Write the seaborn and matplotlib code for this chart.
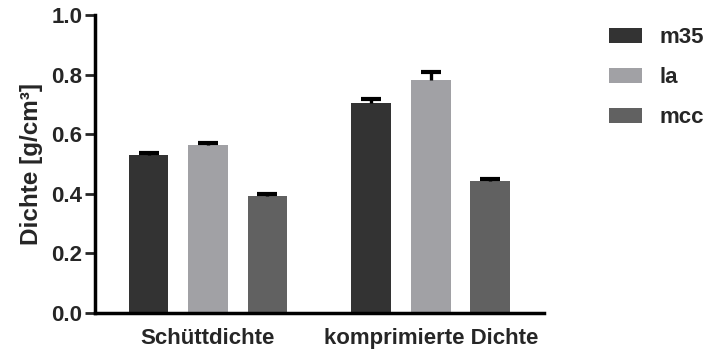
import matplotlib
matplotlib.use("Agg")
import matplotlib.pyplot as plt
import seaborn as sns
import pandas as pd

# Density measurements per powder and method
methods = ["Schüttdichte", "komprimierte Dichte"]
powders = ["m35", "la", "mcc"]
means = {
    "m35": [0.531, 0.704],
    "la": [0.565, 0.781],
    "mcc": [0.393, 0.444],
}
errors = {
    "m35": [0.006, 0.013],
    "la": [0.007, 0.028],
    "mcc": [0.005, 0.005],
}
colors = ["#333333", "#a1a1a5", "#616161"]
yticks = [0.0, 0.2, 0.4, 0.6, 0.8, 1.0]

rows = []
for p in powders:
    for m, v in zip(methods, means[p]):
        rows.append({"Methode": m, "Pulver": p, "Dichte": v})
df = pd.DataFrame(rows)

sns.set_style("white")
plt.rcParams["font.family"] = ["Liberation Sans", "DejaVu Sans"]
plt.rcParams["font.weight"] = "bold"
FS = 16

fig = plt.figure(figsize=(7.09, 3.51), dpi=100)
ax = fig.add_axes([0.134, 0.108, 0.633, 0.849])

sns.barplot(data=df, x="Methode", y="Dichte", hue="Pulver", order=methods,
            hue_order=powders, palette=colors, width=0.8, gap=0.33,
            errorbar=None, ax=ax, saturation=1, linewidth=0)

# Upward-only error bars with a heavy cap on top
for container, p in zip(ax.containers, powders):
    for bar, v, e in zip(container, means[p], errors[p]):
        xc = bar.get_x() + bar.get_width() / 2
        _, caps, _ = ax.errorbar(xc, v, yerr=[[0], [e]], fmt="none",
                                 ecolor="black", elinewidth=2.4, capsize=7.2,
                                 capthick=3, zorder=3)
        caps[0].set_visible(False)

ax.set_xlim(-0.507, 1.507)
ax.set_ylim(0, 1.0)
ax.set_yticks(yticks)
ax.set_yticklabels([f"{t:.1f}" for t in yticks])
ax.tick_params(axis="y", length=7, width=2, labelsize=FS, pad=2, left=True)
ax.tick_params(axis="x", length=0, labelsize=FS, pad=11)
for lab in ax.get_xticklabels() + ax.get_yticklabels():
    lab.set_fontweight("bold")

ax.set_xlabel("")
ax.set_ylabel("Dichte [g/cm³]", fontsize=17.5, fontweight="bold", labelpad=6)

for s in ["top", "right"]:
    ax.spines[s].set_visible(False)
for s in ["left", "bottom"]:
    ax.spines[s].set_linewidth(2.5)
    ax.spines[s].set_color("black")

leg = ax.legend(loc="upper left", bbox_to_anchor=(1.145, 0.96), frameon=False,
                prop={"size": FS, "weight": "bold"}, handlelength=1.5,
                handleheight=0.64, labelspacing=0.86, handletextpad=0.8,
                borderpad=0, borderaxespad=0)

fig.savefig("out.png", dpi=100)
